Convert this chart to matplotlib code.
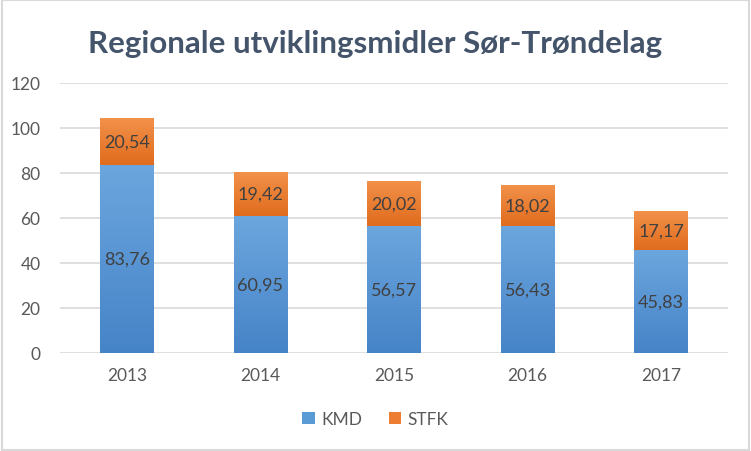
import numpy as np
import matplotlib.pyplot as plt
from matplotlib.patches import Rectangle

years = ['2013', '2014', '2015', '2016', '2017']
kmd = [83.76, 60.95, 56.57, 56.43, 45.83]
stfk = [20.54, 19.42, 20.02, 18.02, 17.17]

plt.rcParams['font.family'] = ['Lato', 'DejaVu Sans']

fig = plt.figure(figsize=(7.51, 4.52), dpi=100)
ax = fig.add_axes([60 / 751, 1 - 354 / 452, 668 / 751, 270 / 452])

# light grey frame around the whole chart
fig.patches.append(Rectangle((0.002, 0.003), 0.996, 0.994, transform=fig.transFigure,
                             fill=False, ec='#d9d9d9', lw=1.5))

x = np.arange(len(years))
w = 0.4


def grad_bar(xc, bottom, height, top_col, bot_col):
    # vertical gradient clipped to the bar rectangle
    rect = Rectangle((xc - w / 2, bottom), w, height, fc='none', ec='none')
    ax.add_patch(rect)
    t = np.linspace(0, 1, 64).reshape(-1, 1)
    c1 = np.array(plt.matplotlib.colors.to_rgb(top_col))
    c2 = np.array(plt.matplotlib.colors.to_rgb(bot_col))
    img = c1 * (1 - t[..., None]) + c2 * t[..., None]
    im = ax.imshow(img, extent=(xc - w / 2, xc + w / 2, bottom, bottom + height),
                   aspect='auto', origin='upper', zorder=2)
    im.set_clip_path(rect)


for i in range(len(years)):
    grad_bar(x[i], 0, kmd[i], '#6ca6de', '#4684c8')
    grad_bar(x[i], kmd[i], stfk[i], '#f2914a', '#e06c1e')
    ax.text(x[i], kmd[i] / 2, f'{kmd[i]:.2f}'.replace('.', ','), ha='center', va='center',
            fontsize=13, color='#404040', zorder=3)
    ax.text(x[i], kmd[i] + stfk[i] / 2, f'{stfk[i]:.2f}'.replace('.', ','), ha='center',
            va='center', fontsize=13, color='#404040', zorder=3)

ax.set_xlim(-0.5, 4.5)
ax.set_ylim(0, 120)
ax.set_yticks(range(0, 121, 20))
ax.set_xticks(x)
ax.set_xticklabels(years)
ax.grid(axis='y', color='#d9d9d9', lw=1.2, zorder=0)
ax.set_axisbelow(True)
for s in ax.spines.values():
    s.set_visible(False)
ax.tick_params(length=0, labelsize=12.5, labelcolor='#595959')
ax.tick_params(axis='y', pad=14)
ax.tick_params(axis='x', pad=10)

fig.text(0.5, 1 - 44 / 452, 'Regionale utviklingsmidler Sør-Trøndelag', ha='center', va='center',
         fontsize=22.5, fontweight='bold', color='#44546a')

h1 = Rectangle((0, 0), 1, 1, fc='#5b9bd5')
h2 = Rectangle((0, 0), 1, 1, fc='#ed7d31')
fig.legend([h1, h2], ['KMD', 'STFK'], loc='center', bbox_to_anchor=(0.5, 1 - 420 / 452),
           ncol=2, frameon=False, fontsize=12.5, handlelength=0.7, handleheight=0.7,
           handletextpad=0.4, columnspacing=1.5, labelcolor='#595959')

fig.savefig('out.png', dpi=100)
